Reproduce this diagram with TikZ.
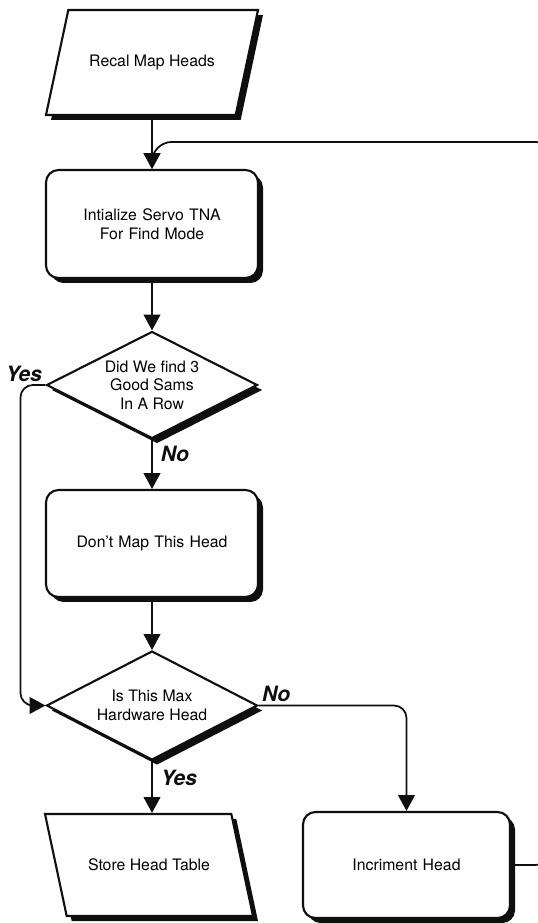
\documentclass[tikz,border=0pt]{standalone}
\usepackage{fontspec}
\setmainfont{TeX Gyre Heros}
\usepackage{tikz}
\usetikzlibrary{shapes.geometric, arrows.meta, shadows}
\definecolor{ink}{RGB}{15,15,15}
\tikzset{
  boxshadow/.style={drop shadow={shadow xshift=0.1cm, shadow yshift=-0.1cm,
    fill=ink, opacity=1}},
  procbox/.style={rectangle, draw=ink, fill=white, text width=3.8cm,
    align=center, minimum width=4.24cm, minimum height=2.14cm,
    rounded corners=0.25cm, line width=1.2pt, boxshadow,
    font=\fontsize{9}{10.5}\selectfont},
  iobox/.style={trapezium, draw=ink, fill=white, align=center,
    trapezium stretches body=true, minimum width=4.24cm,
    inner ysep=0.9cm, line width=1.2pt, boxshadow,
    font=\fontsize{9}{10.5}\selectfont},
  decision/.style={diamond, draw=ink, fill=white, align=center,
    shape aspect=2, minimum width=4.22cm, minimum height=2.14cm,
    inner sep=0pt, line width=1.2pt, boxshadow,
    font=\fontsize{9}{10.5}\selectfont},
  arrow/.style={-{Triangle[width=9.5pt, length=9pt]}, line width=1pt, color=ink},
  lbl/.style={font=\fontsize{12}{13}\selectfont\bfseries\itshape, inner sep=1.5pt}
}
\begin{document}
\begin{tikzpicture}
  \useasboundingbox (0,0) rectangle (10.76,18.46);
  \clip (0,0) rectangle (10.76,18.46);

  \node[iobox, trapezium left angle=78, trapezium right angle=102] (recal) at (3.04,17.21) {Recal Map Heads};
  \node[procbox, minimum height=2.16cm] (init) at (3.04,13.98) {Intialize Servo TNA\\For Find Mode};
  \node[decision] (found) at (3.04,10.76) {Did We find 3\\Good Sams\\In A Row};
  \node[procbox] (nomap) at (3.04,7.59) {Don't Map This Head};
  \node[decision, minimum height=2.18cm] (maxhead) at (3.04,4.35) {Is This Max\\Hardware Head};
  \node[iobox, trapezium left angle=102, trapezium right angle=78, minimum width=4.16cm] (store) at (2.98,1.16) {Store Head Table};
  \node[procbox, minimum width=4.14cm, minimum height=2.12cm] (incr) at (8.13,1.16) {Incriment Head};

  \coordinate (merge) at ([yshift=0.54cm]init.north);
  \coordinate (loopx) at (11.1,0);

  \draw[arrow] (recal) -- (init);
  \draw[arrow] (init) -- (found);
  \draw[arrow] (found) -- node[lbl, right=3pt, pos=0.3] {No} (nomap);
  \draw[arrow] (nomap) -- (maxhead);
  \draw[arrow, rounded corners=0.25cm] (found.west) node[lbl, above left] {Yes}
    -- ++(-0.5,0) |- (maxhead.west);
  \draw[arrow, rounded corners=0.25cm] (maxhead.east) node[lbl, above right] {No}
    -| (incr.north);
  \draw[arrow] (maxhead.south) -- node[lbl, right=3pt, pos=0.32] {Yes} (maxhead.south |- store.north);
  \draw[arrow, rounded corners=0.4cm] (incr.east) -- (incr.east -| loopx) |- (merge) -- (init.north);
\end{tikzpicture}
\end{document}
